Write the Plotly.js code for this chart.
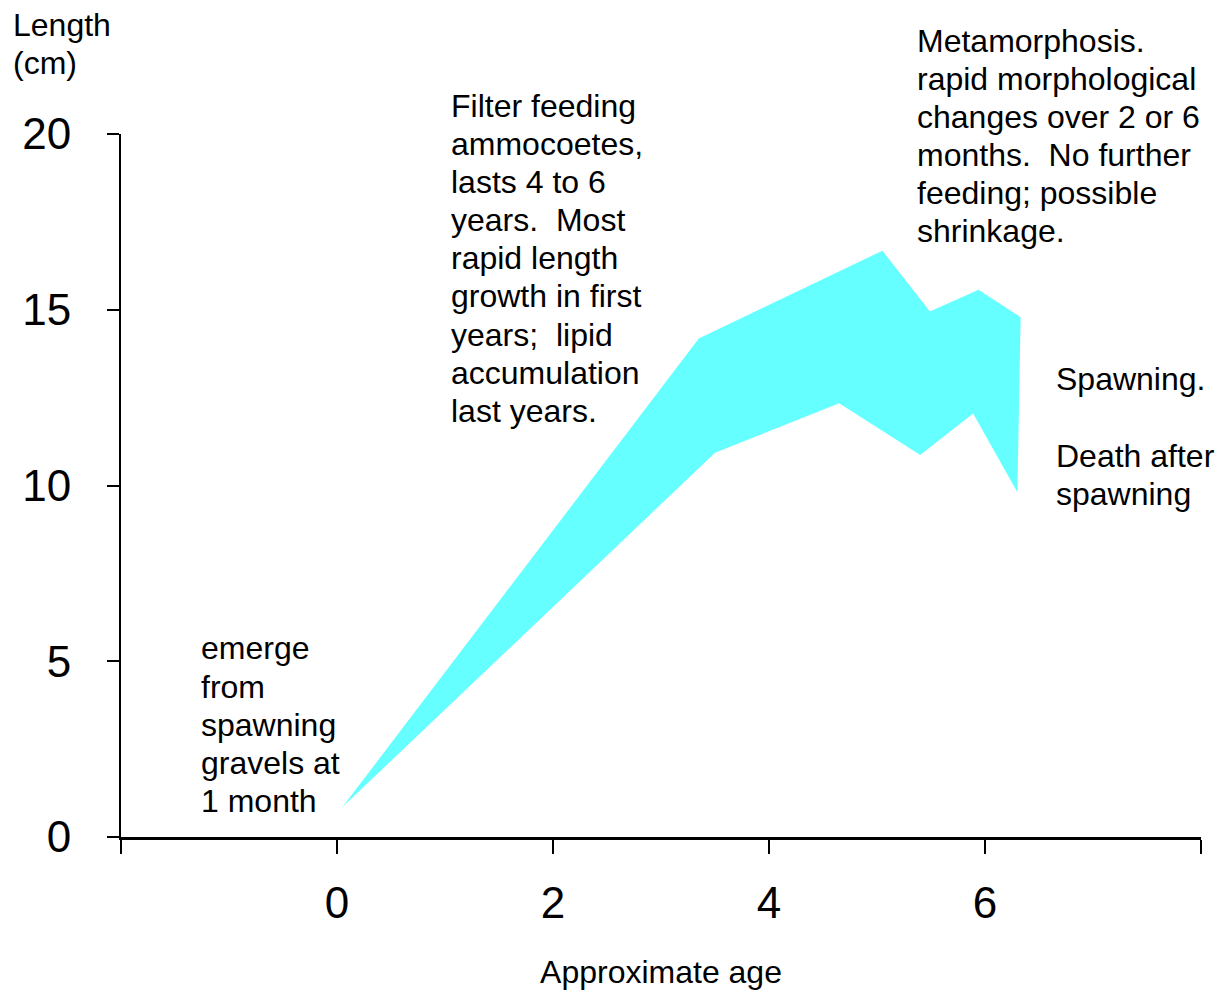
<!DOCTYPE html>
<html>
<head>
<meta charset="utf-8">
<script src="https://cdn.plot.ly/plotly-3.0.1.min.js"></script>
<style>
  html, body { margin: 0; padding: 0; background: #ffffff; }
  #chart { width: 1220px; height: 990px; }
</style>
</head>
<body>
<div id="chart"></div>
<script>
// ---- Data (age in years, length in cm) ----
const upperAge = [0.05, 3.35, 5.05, 5.49, 5.94, 6.33];
const upperLen = [0.85, 14.18, 16.68, 14.95, 15.57, 14.79];
const lowerAge = [0.05, 3.50, 4.65, 5.40, 5.89, 6.30];
const lowerLen = [0.85, 10.93, 12.34, 10.87, 12.05, 9.81];

const xTickVals = [-2, 0, 2, 4, 6, 8];
const xTickText = ["", "0", "2", "4", "6", ""];
const yTickVals = [0, 5, 10, 15, 20];
const yTickText = ["0", "5", "10", "15", "20"];

const lengthLabel = ["Length", "(cm)"];
const emergeNote = ["emerge", "from", "spawning", "gravels at", "1 month"];
const filterNote = ["Filter feeding", "ammocoetes,", "lasts 4 to 6",
  "years.\u00a0 Most", "rapid length", "growth in first",
  "years;\u00a0 lipid", "accumulation", "last years."];
const metaNote = ["Metamorphosis.", "rapid morphological", "changes over 2 or 6",
  "months.\u00a0 No further", "feeding; possible", "shrinkage."];
const spawnNote = ["Spawning.", "", "Death after", "spawning"];
const xTitle = "Approximate age";

// ---- Layout geometry ----
const W = 1220, H = 990;
const M = { l: 121, r: 19, t: 133.5, b: 153.3 };
const PW = W - M.l - M.r, PH = H - M.t - M.b;
const FONT = "Liberation Sans, Arial, Helvetica, sans-serif";
const noteSize = 32;
const lineGap = 38.2;

function px2paperX(px) { return (px - M.l) / PW; }
function px2paperY(py) { return (H - M.b - py) / PH; }

function block(lines, left, firstY) {
  return lines.map((s, i) => ({
    text: s === "" ? " " : s,
    xref: "paper", yref: "paper",
    x: px2paperX(left), y: px2paperY(firstY + i * lineGap),
    xanchor: "left", yanchor: "middle",
    showarrow: false,
    font: { family: FONT, size: noteSize, color: "#000000" }
  }));
}

const annotations = [].concat(
  block(lengthLabel, 11, 24),
  block(emergeNote, 199, 648),
  block(filterNote, 449, 105),
  block(metaNote, 915, 40),
  block(spawnNote, 1054, 379)
);

const polyX = upperAge.concat(lowerAge.slice().reverse());
const polyY = upperLen.concat(lowerLen.slice().reverse());

const traces = [{
  type: "scatter",
  mode: "lines",
  x: polyX,
  y: polyY,
  fill: "toself",
  fillcolor: "#66ffff",
  line: { color: "#66ffff", width: 0 },
  hoverinfo: "skip",
  showlegend: false
}];

const layout = {
  width: W, height: H,
  margin: M,
  paper_bgcolor: "#ffffff",
  plot_bgcolor: "#ffffff",
  font: { family: FONT, color: "#000000" },
  showlegend: false,
  xaxis: {
    range: [-2, 8],
    tickmode: "array",
    tickvals: xTickVals,
    ticktext: xTickText,
    ticks: "outside",
    ticklen: 14,
    tickwidth: 2,
    tickcolor: "#000000",
    showline: true,
    linewidth: 3,
    linecolor: "#000000",
    showgrid: false,
    zeroline: false,
    ticklabelstandoff: 11,
    tickfont: { family: FONT, size: 44, color: "#000000" },
    title: { text: xTitle, font: { family: FONT, size: noteSize, color: "#000000" }, standoff: 36 },
    automargin: false,
    fixedrange: true
  },
  yaxis: {
    range: [0, 20],
    tickmode: "array",
    tickvals: yTickVals,
    ticktext: yTickText,
    ticks: "outside",
    ticklen: 12,
    tickwidth: 2,
    tickcolor: "#000000",
    showline: true,
    linewidth: 2,
    linecolor: "#000000",
    showgrid: false,
    zeroline: false,
    ticklabelstandoff: 27,
    tickfont: { family: FONT, size: 44, color: "#000000" },
    automargin: false,
    fixedrange: true
  },
  annotations: annotations
};

Plotly.newPlot("chart", traces, layout, { staticPlot: true, displayModeBar: false });
</script>
</body>
</html>
